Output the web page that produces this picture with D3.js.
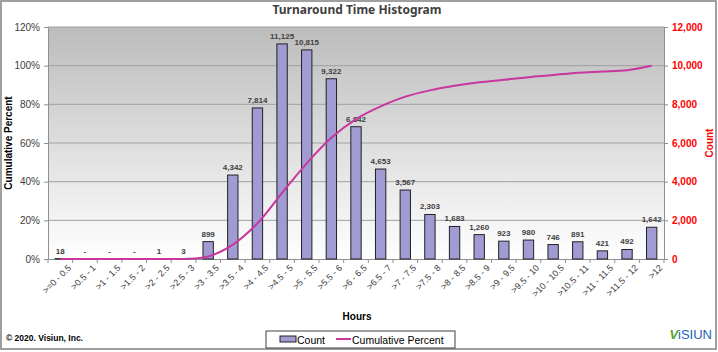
<!DOCTYPE html>
<html><head><meta charset="utf-8">
<script src="https://cdn.jsdelivr.net/npm/d3@7"></script>
<style>body{margin:0;background:#fff}svg{display:block}</style>
</head><body>
<svg id="chart" width="718" height="352"></svg>
<script>
const categories = [">=0 - 0.5", ">0.5 - 1", ">1 - 1.5", ">1.5 - 2", ">2 - 2.5", ">2.5 - 3", ">3 - 3.5", ">3.5 - 4", ">4 - 4.5", ">4.5 - 5", ">5 - 5.5", ">5.5 - 6", ">6 - 6.5", ">6.5 - 7", ">7 - 7.5", ">7.5 - 8", ">8 - 8.5", ">8.5 - 9", ">9 - 9.5", ">9.5 - 10", ">10 - 10.5", ">10.5 - 11", ">11 - 11.5", ">11.5 - 12", ">12"];
const counts = [18, 0, 0, 0, 1, 3, 899, 4342, 7814, 11125, 10815, 9322, 6842, 4653, 3567, 2303, 1683, 1260, 923, 980, 746, 891, 421, 492, 1642];
const cumulativePercent = [0.0003, 0.0003, 0.0003, 0.0003, 0.0003, 0.0003, 0.013, 0.0744, 0.1849, 0.3421, 0.495, 0.6268, 0.7235, 0.7893, 0.8397, 0.8722, 0.896, 0.9138, 0.9269, 0.9407, 0.9513, 0.9639, 0.9698, 0.9768, 1.0];
const percentTicks = [0, 0.2, 0.4, 0.6, 0.8, 1.0, 1.2];
const countTicks = [0, 2000, 4000, 6000, 8000, 10000, 12000];

const svg = d3.select("#chart");
const W = 718, H = 352;
const m = {left: 48, right: 664, top: 27, bottom: 259};

// outer border
svg.append("rect").attr("x", 1).attr("y", 1).attr("width", W - 3).attr("height", H - 4)
  .attr("fill", "#fff").attr("stroke", "#808080").attr("stroke-width", 1.5);

// gradient
const defs = svg.append("defs");
const g = defs.append("linearGradient").attr("id", "bg").attr("x1", 0).attr("y1", 0).attr("x2", 0).attr("y2", 1);
g.append("stop").attr("offset", "0%").attr("stop-color", "#bcbcbc");
g.append("stop").attr("offset", "100%").attr("stop-color", "#ffffff");

const x = d3.scaleBand().domain(categories).range([m.left, m.right]).paddingInner(0.58).paddingOuter(0.29);
const xOuter = d3.scaleBand().domain(categories).range([m.left, m.right]);
const yP = d3.scaleLinear().domain([0, 1.2]).range([m.bottom, m.top]);
const yC = d3.scaleLinear().domain([0, 12000]).range([m.bottom, m.top]);

svg.append("rect").attr("x", m.left).attr("y", m.top).attr("width", m.right - m.left).attr("height", m.bottom - m.top)
  .attr("fill", "url(#bg)");

// gridlines
svg.append("g").selectAll("line").data(percentTicks.slice(1)).join("line")
  .attr("x1", m.left).attr("x2", m.right).attr("y1", d => yP(d)).attr("y2", d => yP(d))
  .attr("stroke", "#a0a0a0").attr("stroke-width", 1);

// left axis
const la = svg.append("g").attr("transform", `translate(${m.left},0)`)
  .call(d3.axisLeft(yP).tickValues(percentTicks).tickFormat(d3.format(".0%")).tickSize(4).tickPadding(4));
la.select(".domain").attr("stroke", "#909090");
la.selectAll(".tick line").attr("stroke", "#909090");
la.selectAll("text").attr("font-family", "Liberation Sans, Arial, sans-serif").attr("font-size", 10).attr("fill", "#404040");

// right axis
const ra = svg.append("g").attr("transform", `translate(${m.right},0)`)
  .call(d3.axisRight(yC).tickValues(countTicks).tickFormat(d3.format(",")).tickSize(4).tickPadding(4));
ra.select(".domain").attr("stroke", "#909090");
ra.selectAll(".tick line").attr("stroke", "#909090");
ra.selectAll("text").attr("font-family", "Liberation Sans, Arial, sans-serif").attr("font-size", 10)
  .attr("font-weight", "bold").attr("fill", "#ff0000");

// x axis
const xa = svg.append("g").attr("transform", `translate(0,${m.bottom})`)
  .call(d3.axisBottom(xOuter).tickSize(0).tickPadding(6));
xa.select(".domain").attr("stroke", "#909090");
xa.selectAll(".tick text").attr("font-family", "Liberation Sans, Arial, sans-serif").attr("font-size", 9)
  .attr("fill", "#404040").attr("text-anchor", "end")
  .attr("transform", "translate(4,2) rotate(-45)").attr("dy", "0.5em").attr("dx", "0");
// category boundary ticks
const bounds = categories.map(c => xOuter(c)).concat([m.right]);
svg.append("g").selectAll("line").data(bounds).join("line")
  .attr("x1", d => d).attr("x2", d => d).attr("y1", m.bottom).attr("y2", m.bottom + 4)
  .attr("stroke", "#909090");

// bars
svg.append("g").selectAll("rect").data(counts).join("rect")
  .attr("x", (d, i) => x(categories[i])).attr("width", x.bandwidth())
  .attr("y", d => yC(d)).attr("height", d => yC(0) - yC(d))
  .attr("fill", "#a09bd3").attr("stroke", "#222").attr("stroke-width", 1);

// bar labels
svg.append("g").selectAll("text").data(counts).join("text")
  .attr("x", (d, i) => x(categories[i]) + x.bandwidth() / 2)
  .attr("y", d => yC(d) - 5)
  .attr("text-anchor", "middle")
  .attr("font-family", "Liberation Sans, Arial, sans-serif").attr("font-size", 8).attr("font-weight", "bold")
  .attr("fill", "#404040")
  .text(d => d === 0 ? "-" : d3.format(",")(d));

// cumulative line
const line = d3.line()
  .x((d, i) => xOuter(categories[i]) + xOuter.bandwidth() / 2)
  .y(d => yP(d)).curve(d3.curveCatmullRom.alpha(0.5));
svg.append("path").datum(cumulativePercent).attr("d", line)
  .attr("fill", "none").attr("stroke", "#c8379f").attr("stroke-width", 2);

// title
svg.append("text").attr("x", 357).attr("y", 14).attr("text-anchor", "middle")
  .attr("font-family", "Noto Sans, DejaVu Sans, sans-serif").attr("font-size", 12).attr("font-weight", "bold")
  .attr("fill", "#404040").text("Turnaround Time Histogram");

// axis titles
svg.append("text").attr("transform", `translate(12,${(m.top + m.bottom) / 2}) rotate(-90)`)
  .attr("text-anchor", "middle").attr("font-family", "Liberation Sans, Arial, sans-serif")
  .attr("font-size", 10).attr("font-weight", "bold").attr("fill", "#000").text("Cumulative Percent");
svg.append("text").attr("transform", `translate(713,${(m.top + m.bottom) / 2}) rotate(-90)`)
  .attr("text-anchor", "middle").attr("font-family", "Liberation Sans, Arial, sans-serif")
  .attr("font-size", 10).attr("font-weight", "bold").attr("fill", "#ff0000").text("Count");
svg.append("text").attr("x", 357).attr("y", 320).attr("text-anchor", "middle")
  .attr("font-family", "Liberation Sans, Arial, sans-serif").attr("font-size", 10).attr("font-weight", "bold")
  .attr("fill", "#000").text("Hours");

// legend
const lg = svg.append("g");
lg.append("rect").attr("x", 266).attr("y", 331).attr("width", 189).attr("height", 17)
  .attr("fill", "#fff").attr("stroke", "#404040").attr("stroke-width", 1);
lg.append("rect").attr("x", 280).attr("y", 336).attr("width", 16).attr("height", 6)
  .attr("fill", "#a09bd3").attr("stroke", "#222");
lg.append("text").attr("x", 297).attr("y", 343.5).attr("font-family", "Liberation Sans Narrow, Liberation Sans, Arial, sans-serif")
  .attr("font-size", 10.5).attr("fill", "#000").text("Count");
lg.append("line").attr("x1", 336).attr("x2", 351).attr("y1", 339).attr("y2", 339)
  .attr("stroke", "#c8379f").attr("stroke-width", 2);
lg.append("text").attr("x", 352).attr("y", 343.5).attr("font-family", "Liberation Sans Narrow, Liberation Sans, Arial, sans-serif")
  .attr("font-size", 10.5).attr("fill", "#000").text("Cumulative Percent");

// footer
svg.append("text").attr("x", 6).attr("y", 341).attr("font-family", "Liberation Sans Narrow, Liberation Sans, Arial, sans-serif")
  .attr("font-size", 8.5).attr("font-weight", "bold").attr("fill", "#000").text("© 2020. Visiun, Inc.");

// logo
const logo = svg.append("text").attr("x", 712).attr("y", 339).attr("text-anchor", "end")
  .attr("font-family", "Liberation Sans, Arial, sans-serif").attr("font-size", 13);
logo.append("tspan").attr("fill", "#5aa02c").attr("font-style", "italic").attr("font-weight", "bold").text("V");
logo.append("tspan").attr("fill", "#1f63b5").text("iSIUN");
</script>
</body></html>
